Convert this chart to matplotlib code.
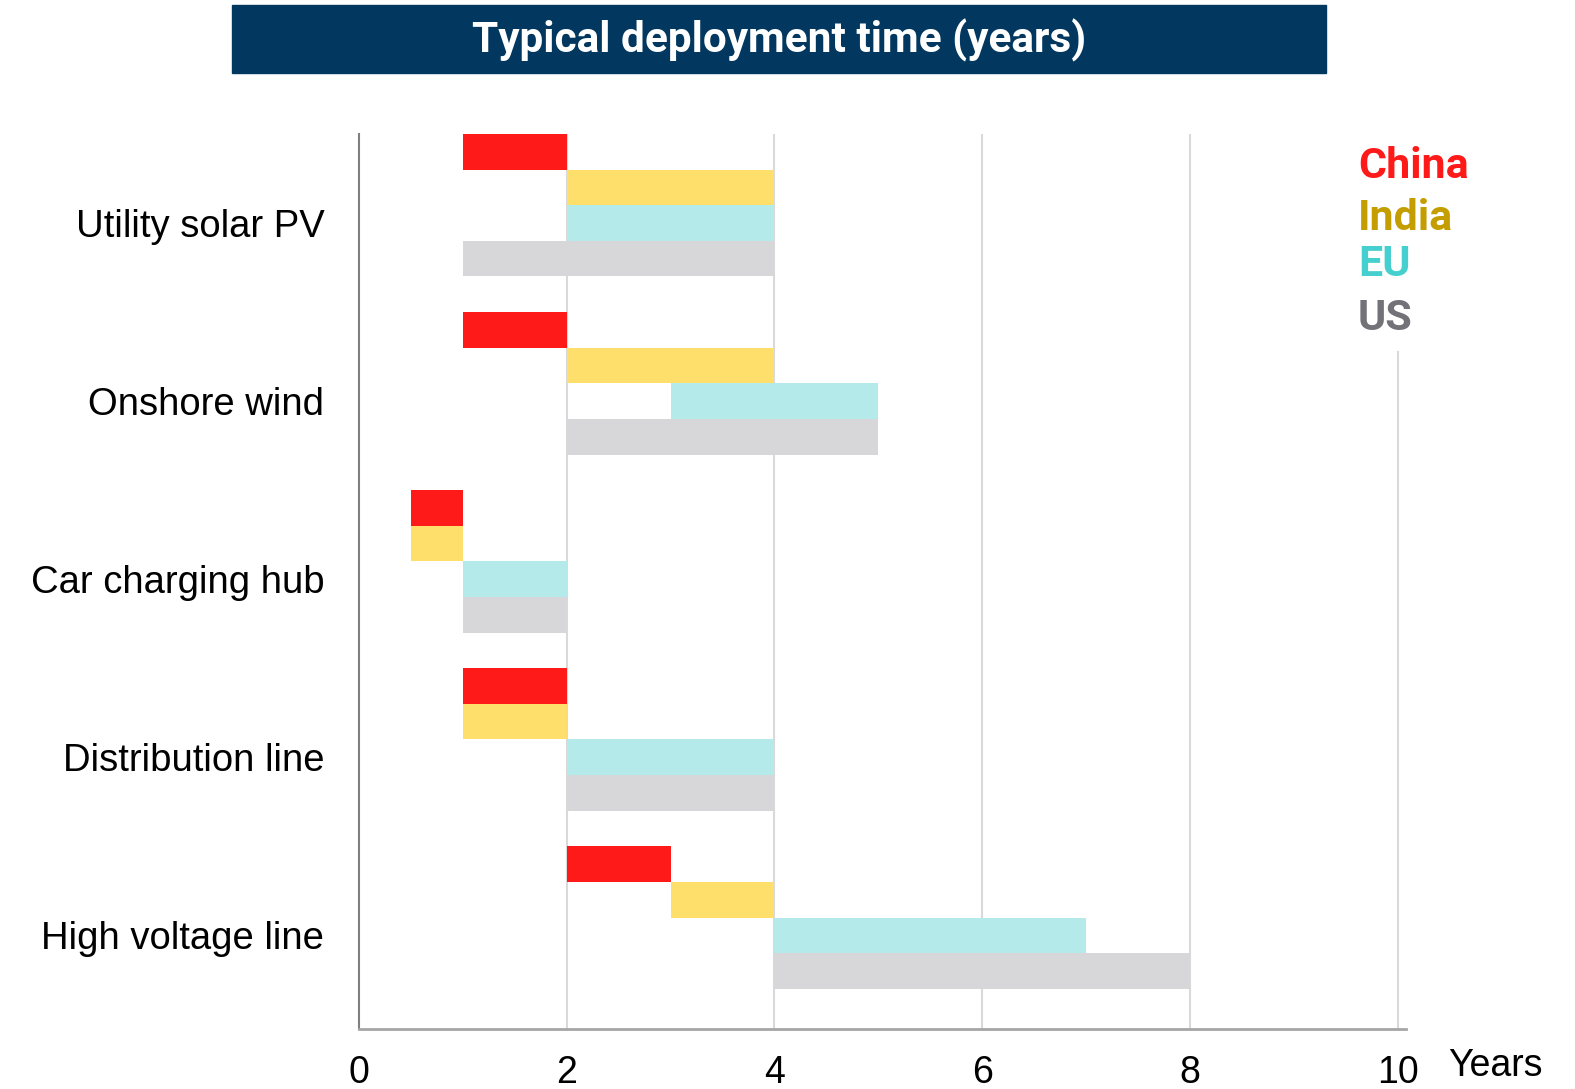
import matplotlib.pyplot as plt
from matplotlib.patches import Rectangle

# deployment time ranges (years): bars run from start to end
categories = ["Utility solar PV", "Onshore wind", "Car charging hub",
              "Distribution line", "High voltage line"]
regions = ["China", "India", "EU", "US"]

china_start = [1, 1, 0.5, 1, 2]
china_end = [2, 2, 1, 2, 3]
india_start = [2, 2, 0.5, 1, 3]
india_end = [4, 4, 1, 2, 4]
eu_start = [2, 3, 1, 2, 4]
eu_end = [4, 5, 2, 4, 7]
us_start = [1, 2, 1, 2, 4]
us_end = [4, 5, 2, 4, 8]

x_ticks = [0, 2, 4, 6, 8, 10]

bar_colors = ["#FF1A1A", "#FFDF6C", "#B5EAEA", "#D7D7D9"]
text_colors = ["#FF1A1A", "#C49E00", "#45D0CF", "#737278"]

W, H = 1575, 1089
fig = plt.figure(figsize=(W / 100, H / 100), dpi=100)
ax = fig.add_axes([359 / W, 1 - 1029 / H, (1406 - 359) / W, (1029 - 134) / H])

starts = [china_start, india_start, eu_start, us_start]
ends = [china_end, india_end, eu_end, us_end]
for i, (s, e) in enumerate(zip(starts, ends)):
    ys = [g * 5 + i for g in range(len(categories))]
    widths = [b - a for a, b in zip(s, e)]
    ax.barh(ys, widths, left=s, height=1.0, color=bar_colors[i], zorder=3)

ax.set_xlim(0, 10.08)
ax.set_ylim(24.63, -0.5)

# vertical gridlines; the last one stops below the legend
for x in x_ticks[1:]:
    top = 0.756 if x == 10 else 1.0
    ax.axvline(x, ymin=0, ymax=top, color="#D9D9D9", lw=1.5, zorder=1)

ax.set_yticks([g * 5 + 2 for g in range(len(categories))])
ax.set_yticklabels(categories, fontsize=27.5, family="Liberation Sans")
ax.tick_params(axis="y", length=0, pad=25)

ax.set_xticks(x_ticks)
ax.set_xticklabels([str(t) for t in x_ticks], fontsize=27, family="Liberation Sans")
ax.tick_params(axis="x", length=0, pad=19)

for side in ["top", "right"]:
    ax.spines[side].set_visible(False)
ax.spines["left"].set_color("#808080")
ax.spines["left"].set_linewidth(1.5)
ax.spines["bottom"].set_color("#A6A6A6")
ax.spines["bottom"].set_linewidth(2)

fig.text(1448 / W, 1 - 1066 / H, "Years", fontsize=27, family="Liberation Sans",
         ha="left", va="center")

# legend as coloured labels
legend_y = [166, 218, 264, 319]
for name, c, yy in zip(regions, text_colors, legend_y):
    fig.text(1358 / W, 1 - yy / H, name, color=c, fontsize=31,
             family="Roboto", fontweight="bold", ha="left", va="center")

# title banner
fig.patches.append(Rectangle((232 / W, 1 - 73 / H), 1094 / W, 68 / H,
                             transform=fig.transFigure, color="#02385F", zorder=0))
fig.text(779 / W, 1 - 40 / H, "Typical deployment time (years)", color="white",
         fontsize=30.5, family="Roboto", fontweight="bold", ha="center", va="center")

fig.savefig("out.png", dpi=100)
